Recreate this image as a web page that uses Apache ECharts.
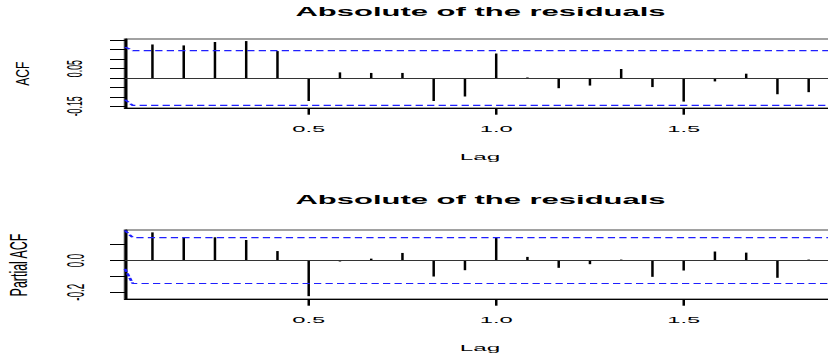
<!DOCTYPE html>
<html>
<head>
<meta charset="utf-8">
<script src="https://cdn.jsdelivr.net/npm/echarts@6/dist/echarts.min.js"></script>
<style>
html,body{margin:0;padding:0;background:#fff;overflow:hidden;width:828px;height:358px;}
#c{width:336px;height:358px;transform:scaleX(2.5);transform-origin:0 0;}
</style>
</head>
<body>
<div id="c"></div>
<script>
// ---- data ----
const lags = [0.0833,0.1667,0.25,0.3333,0.4167,0.5,0.5833,0.6667,0.75,0.8333,0.9167,1.0,
              1.0833,1.1667,1.25,1.3333,1.4167,1.5,1.5833,1.6667,1.75,1.8333];
const acfValues = [0.178,0.173,0.191,0.196,0.143,-0.122,0.030,0.027,0.027,-0.122,-0.098,0.130,
                   0.003,-0.054,-0.040,0.048,-0.048,-0.125,-0.018,0.023,-0.086,-0.075];
const pacfValues = [0.178,0.147,0.147,0.130,0.060,-0.225,-0.006,0.012,0.048,-0.101,-0.061,0.145,
                    0.023,-0.046,-0.023,0.006,-0.103,-0.063,0.057,0.050,-0.109,0.006];
const ciBound = 0.145;
const ciLeadLag = [0.0101, 0.0307];
const acfCiLead = [0.1645, -0.115];
const pacfCiLead = [0.19, -0.053];
const xRange = [0.0101, 1.9035];
const acfRange = [-0.159, 0.207];
const pacfRange = [-0.243, 0.193];
const xTickValues = [0.5, 1.0, 1.5];
const xTickLabels = ['0.5', '1.0', '1.5'];
const acfTickValues = [-0.15,-0.10,-0.05,0,0.05,0.10,0.15,0.20];
const acfLabelValues = [-0.15, 0.05];
const acfLabels = ['-0.15', '0.05'];
const pacfTickValues = [-0.2,-0.1,0,0.1];
const pacfLabelValues = [-0.2, 0];
const pacfLabels = ['-0.2', '0.0'];
const titleText = 'Absolute of the residuals';
const xName = 'Lag';
const yNames = ['ACF', 'Partial ACF'];

// ---- chart ----
const FONT = "'Liberation Sans', Arial, Helvetica, sans-serif";
function fmt(values, labels){
  return v => { const i = values.findIndex(t => Math.abs(t - v) < 1e-6); return i < 0 ? '' : labels[i]; };
}
const grids = [
  {left: 50, top: 39, width: 284, height: 69},
  {left: 50, top: 230, width: 284, height: 69}
];
function xAxisCfg(g){
  return {
    type:'value', gridIndex:g, min:xRange[0], max:xRange[1],
    axisLine:{show:true, onZero:false, lineStyle:{color:'#000', width:1}},
    axisTick:{show:true, customValues:xTickValues, length:6.7, lineStyle:{color:'#000', width:1}},
    axisLabel:{show:true, customValues:xTickValues, formatter:fmt(xTickValues, xTickLabels),
               fontSize:9.5, color:'#000', fontFamily:FONT, margin:16},
    splitLine:{show:false},
    name:xName, nameLocation:'middle', nameGap:43.5,
    nameTextStyle:{fontSize:9.7, color:'#000', fontFamily:FONT}
  };
}
function yAxisCfg(g, range, tickVals, labVals, labs, fs, mg){
  return {
    type:'value', gridIndex:g, min:range[0], max:range[1],
    axisLine:{show:true, lineStyle:{color:'#000', width:1}},
    axisTick:{show:true, customValues:tickVals, length:6, lineStyle:{color:'#000', width:1}},
    axisLabel:{show:true, customValues:labVals, formatter:fmt(labVals, labs), rotate:90,
               fontSize:fs, color:'#000', fontFamily:FONT, margin:mg},
    splitLine:{show:false}
  };
}
function stems(g, vals){
  return {
    type:'bar', xAxisIndex:g, yAxisIndex:g,
    data: lags.map((l,i) => [l, vals[i]]),
    barWidth:0.8, itemStyle:{color:'#000'}, silent:true, z:2,
    markLine:{silent:true, symbol:'none', label:{show:false}, animation:false,
              lineStyle:{color:'#333', type:'solid', width:1}, data:[{yAxis:0}]}
  };
}
function ci(g, lead, sign){
  return {
    type:'line', xAxisIndex:g, yAxisIndex:g, symbol:'none', silent:true, z:5,
    data:[[ciLeadLag[0], lead], [ciLeadLag[1], sign*ciBound], [xRange[1], sign*ciBound]],
    lineStyle:{color:'#1f1fff', width:1.2, type:[2.9,1.7]}
  };
}
const chart = echarts.init(document.getElementById('c'), null, {renderer:'svg'});
chart.setOption({
  animation:false,
  backgroundColor:'#fff',
  title:[
    {text:titleText, left:192.2, textAlign:'center', top:6, padding:0,
     textStyle:{fontSize:12.4, fontWeight:'bold', color:'#000', fontFamily:FONT}},
    {text:titleText, left:192.2, textAlign:'center', top:194, padding:0,
     textStyle:{fontSize:12.4, fontWeight:'bold', color:'#000', fontFamily:FONT}}
  ],
  grid: grids.map(g => Object.assign({show:true, borderColor:'#444', borderWidth:1, backgroundColor:'transparent'}, g)),
  xAxis:[xAxisCfg(0), xAxisCfg(1)],
  yAxis:[
    yAxisCfg(0, acfRange, acfTickValues, acfLabelValues, acfLabels, 8.8, 15.5),
    yAxisCfg(1, pacfRange, pacfTickValues, pacfLabelValues, pacfLabels, 9.8, 15)
  ],
  series:[
    stems(0, acfValues), ci(0, acfCiLead[0], 1), ci(0, acfCiLead[1], -1),
    stems(1, pacfValues), ci(1, pacfCiLead[0], 1), ci(1, pacfCiLead[1], -1)
  ],
  graphic:[
    {type:'text', x:9.2, y:73.8, rotation:Math.PI/2, scaleX:1.05, scaleY:0.62,
     style:{text:yNames[0], font:'11.5px ' + FONT, fill:'#000', align:'center', verticalAlign:'middle'}},
    {type:'text', x:7.6, y:265, rotation:Math.PI/2, scaleX:1.15, scaleY:0.9,
     style:{text:yNames[1], font:'10.8px ' + FONT, fill:'#000', align:'center', verticalAlign:'middle'}}
  ]
});
</script>
</body>
</html>
